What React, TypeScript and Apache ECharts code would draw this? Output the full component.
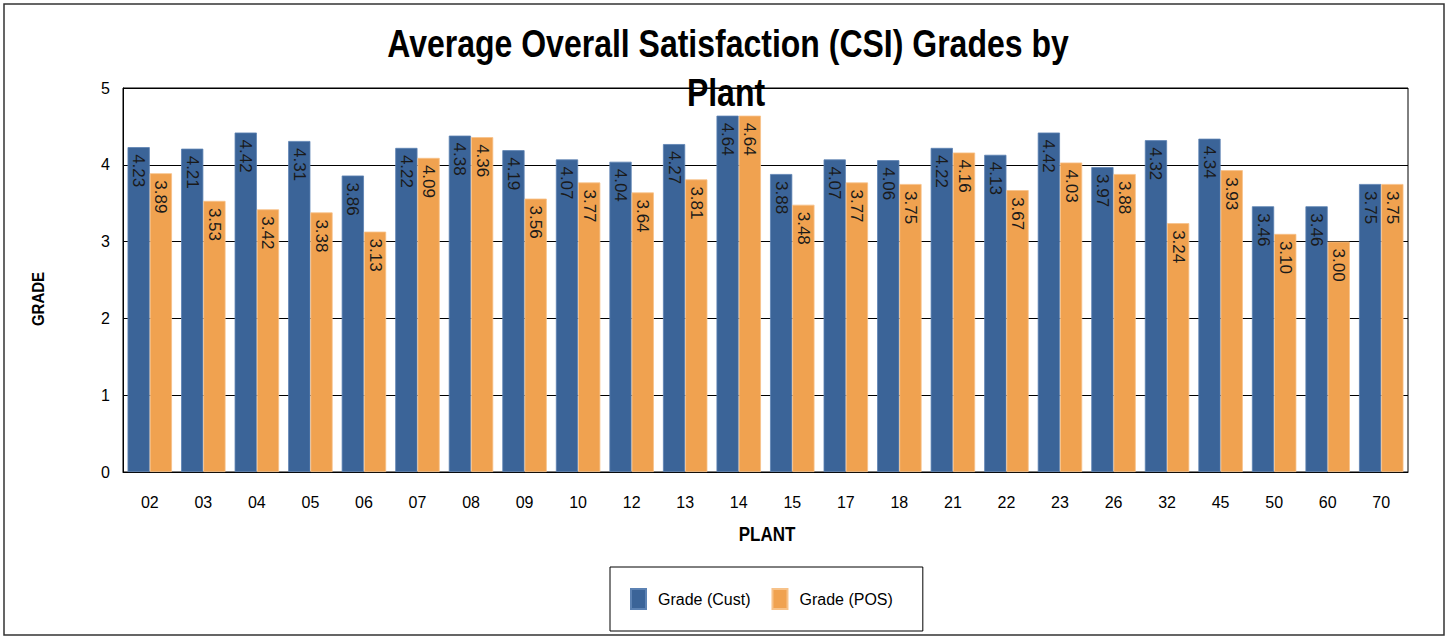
import React, { useEffect, useRef } from "react";
import * as echarts from "echarts";

const plants = ["02", "03", "04", "05", "06", "07", "08", "09", "10", "12", "13", "14", "15", "17", "18", "21", "22", "23", "26", "32", "45", "50", "60", "70"];
const gradeCust = [4.23, 4.21, 4.42, 4.31, 3.86, 4.22, 4.38, 4.19, 4.07, 4.04, 4.27, 4.64, 3.88, 4.07, 4.06, 4.22, 4.13, 4.42, 3.97, 4.32, 4.34, 3.46, 3.46, 3.75];
const gradePOS = [3.89, 3.53, 3.42, 3.38, 3.13, 4.09, 4.36, 3.56, 3.77, 3.64, 3.81, 4.64, 3.48, 3.77, 3.75, 4.16, 3.67, 4.03, 3.88, 3.24, 3.93, 3.10, 3.00, 3.75];
const titleLines = ["Average Overall Satisfaction (CSI) Grades by", "Plant"];

const FONT = "'Liberation Sans', Arial, sans-serif";

export default function App() {
  const ref = useRef<HTMLDivElement>(null);
  useEffect(() => {
    document.body.style.margin = "0";
    const chart = echarts.init(ref.current!, null, { renderer: "svg" });
    const label = {
      show: true,
      position: "insideTop",
      rotate: -90,
      align: "left",
      verticalAlign: "middle",
      distance: 7,
      fontSize: 17,
      fontFamily: FONT,
      color: "#1a1a1a",
      formatter: (p: any) => p.value.toFixed(2),
    };
    chart.setOption({
      animation: false,
      backgroundColor: "#fff",
      textStyle: { fontFamily: FONT },
      graphic: [
        {
          type: "rect",
          shape: { x: 4, y: 4, width: 1440, height: 631 },
          style: { fill: "none", stroke: "#333", lineWidth: 1.5 },
          silent: true,
        },
        {
          type: "text",
          x: 728,
          y: 43,
          scaleY: 1.2,
          z: 10,
          style: { text: titleLines[0], font: `bold 32px ${FONT}`, fill: "#000", align: "center", verticalAlign: "middle" },
        },
        {
          type: "text",
          x: 726,
          y: 92,
          scaleY: 1.2,
          z: 10,
          style: { text: titleLines[1], font: `bold 32px ${FONT}`, fill: "#000", align: "center", verticalAlign: "middle" },
        },
        {
          type: "text",
          x: 38,
          y: 299,
          rotation: Math.PI / 2,
          scaleY: 1.15,
          style: { text: "GRADE", font: `bold 15px ${FONT}`, fill: "#000", align: "center", verticalAlign: "middle" },
        },
        {
          type: "text",
          x: 767,
          y: 534,
          scaleY: 1.2,
          style: { text: "PLANT", font: `bold 17px ${FONT}`, fill: "#000", align: "center", verticalAlign: "middle" },
        },
      ],
      legend: {
        left: 610,
        top: 567,
        orient: "horizontal",
        padding: [21, 30, 21, 20],
        itemWidth: 15,
        itemHeight: 20,
        itemGap: 21,
        borderColor: "#000",
        borderWidth: 1,
        icon: "rect",
        textStyle: { fontSize: 16, color: "#000", fontFamily: FONT, padding: [0, 0, 0, 7] },
        data: ["Grade (Cust)", "Grade (POS)"],
      },
      grid: {
        left: 123,
        right: 45,
        top: 88,
        bottom: 166,
        show: true,
        borderColor: "#000",
        borderWidth: 1,
        containLabel: false,
      },
      xAxis: {
        type: "category",
        data: plants,
        axisLine: { lineStyle: { color: "#000", width: 1 } },
        axisTick: { show: false },
        axisLabel: { fontSize: 16, color: "#000", margin: 22, fontFamily: FONT },
      },
      yAxis: {
        type: "value",
        min: 0,
        max: 5,
        interval: 1,
        axisLine: { show: true, lineStyle: { color: "#000" } },
        axisTick: { show: false },
        axisLabel: { fontSize: 16, color: "#000", margin: 13, fontFamily: FONT },
        splitLine: { lineStyle: { color: "#000", width: 1 } },
      },
      series: [
        {
          name: "Grade (Cust)",
          type: "bar",
          data: gradeCust,
          barGap: "0%",
          barCategoryGap: "17%",
          itemStyle: { color: "#3B6498", borderColor: "#5C82B3", borderWidth: 0.8 },
          label,
        },
        {
          name: "Grade (POS)",
          type: "bar",
          data: gradePOS,
          itemStyle: { color: "#F0A250", borderColor: "#F7C289", borderWidth: 0.8 },
          label,
        },
      ],
    });
    return () => chart.dispose();
  }, []);
  return <div ref={ref} style={{ width: 1453, height: 638 }} />;
}
